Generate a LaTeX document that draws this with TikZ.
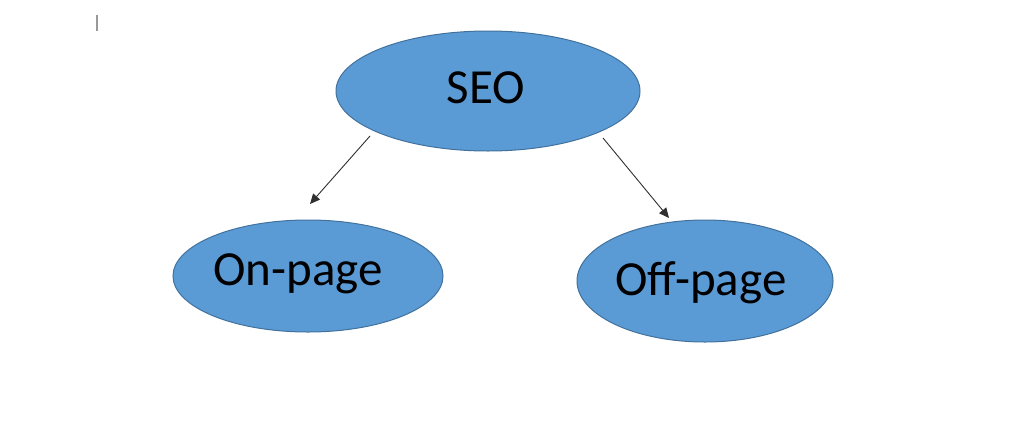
\documentclass[tikz,border=0pt]{standalone}
\usepackage{fontspec}
\setmainfont{Carlito}
\usetikzlibrary{arrows.meta,shapes.geometric}
\definecolor{nodefill}{HTML}{5B9BD5}
\definecolor{nodeedge}{HTML}{41719C}
\definecolor{arrowcol}{HTML}{303030}
\tikzset{
  oval/.style={ellipse, draw=nodeedge, fill=nodefill, line width=1pt, inner sep=0pt},
  lbl/.style={anchor=base, inner sep=0pt, text=black, font=\fontsize{49}{54}\selectfont},
  conn/.style={draw=arrowcol, line width=0.9pt, -{Triangle[length=10pt,width=9pt]}}
}
\begin{document}
\begin{tikzpicture}[x=1pt,y=-1pt]
\useasboundingbox (0,0) rectangle (1024,434);
\fill[white] (0,0) rectangle (1024,434);
% cursor mark
\draw[gray!80, line width=1.2pt] (97,15) -- (97,31);
% ellipses
\node[oval, minimum width=304pt, minimum height=120pt] (seo) at (488,91) {};
\node[oval, minimum width=270pt, minimum height=112pt] (on) at (308,276) {};
\node[oval, minimum width=256pt, minimum height=122pt] (off) at (705,281) {};
% labels
\node[lbl] (seot) at (486,103) {SEO};
\node[lbl] (ont) at (298,285) {On-page};
\node[lbl] (offt) at (701,295) {Off-page};
% connectors
\coordinate (a1) at (370,136);
\coordinate (a2) at (310,204);
\coordinate (b1) at (603,138);
\coordinate (b2) at (669,218);
\draw[conn] (a1) -- (a2);
\draw[conn] (b1) -- (b2);
\end{tikzpicture}
\end{document}
